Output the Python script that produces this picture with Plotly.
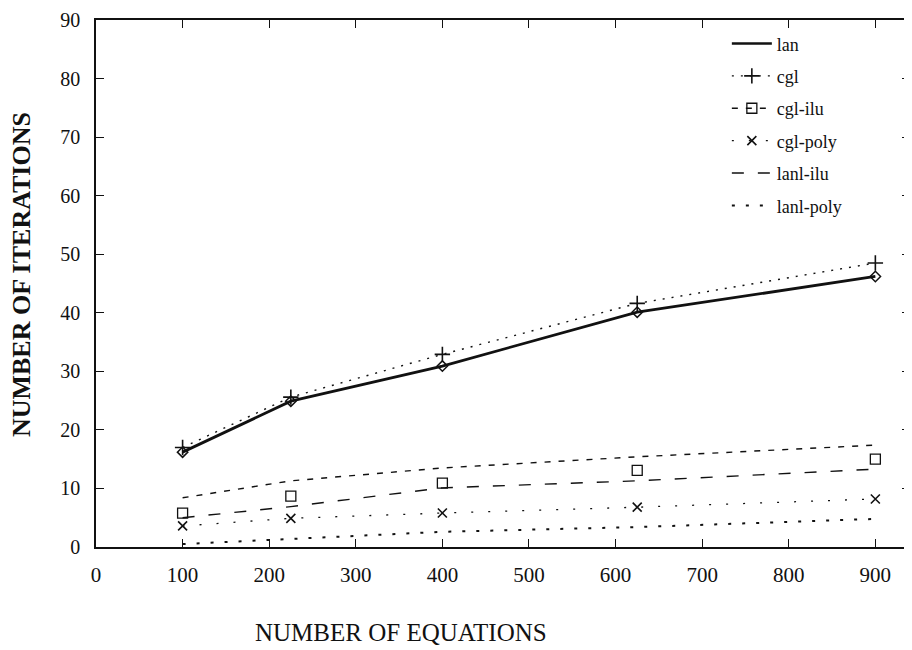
import plotly.graph_objects as go

# ---- data ----
n_equations = [100, 225, 400, 625, 900]
lan = [16.2, 24.9, 30.9, 40.1, 46.2]
cgl = [17.0, 25.6, 32.9, 41.6, 48.5]
cgl_ilu_markers = [5.8, 8.7, 10.9, 13.1, 15.0]
cgl_ilu_line = [8.4, 11.3, 13.5, 15.4, 17.4]
cgl_poly = [3.6, 4.9, 5.8, 6.8, 8.2]
lanl_ilu = [5.0, 6.9, 10.1, 11.3, 13.3]
lanl_poly = [0.5, 1.4, 2.6, 3.4, 4.8]

x_ticks = [0, 100, 200, 300, 400, 500, 600, 700, 800, 900]
y_ticks = [0, 10, 20, 30, 40, 50, 60, 70, 80, 90]

FONT = "Liberation Serif"
BLACK = "#111111"

fig = go.Figure()

# lan: solid line with open diamonds
fig.add_trace(go.Scatter(x=n_equations, y=lan, mode="lines+markers", name="lan",
                         line=dict(color=BLACK, width=2.8),
                         marker=dict(symbol="diamond-open", size=8, color=BLACK,
                                     line=dict(width=1.5, color=BLACK)),
                         showlegend=False, legendgroup="lan"))
fig.add_trace(go.Scatter(x=[None], y=[None], mode="lines", name="lan",
                         line=dict(color=BLACK, width=2.6), legendgroup="lan"))

# cgl: dotted line with + markers
fig.add_trace(go.Scatter(x=n_equations, y=cgl, mode="lines+markers", name="cgl",
                         line=dict(color=BLACK, width=1.4, dash="2px,7px"),
                         marker=dict(symbol="cross-thin-open", size=11, color=BLACK,
                                     line=dict(width=1.6, color=BLACK)),
                         legendgroup="cgl"))

# cgl-ilu: short-dash line + open squares
fig.add_trace(go.Scatter(x=n_equations, y=cgl_ilu_line, mode="lines", name="cgl-ilu",
                         line=dict(color=BLACK, width=1.4, dash="6px,8px"),
                         showlegend=False, legendgroup="cgl-ilu"))
fig.add_trace(go.Scatter(x=n_equations, y=cgl_ilu_markers, mode="markers", name="cgl-ilu",
                         marker=dict(symbol="square-open", size=10, color=BLACK,
                                     line=dict(width=1.3, color=BLACK)),
                         showlegend=False, legendgroup="cgl-ilu"))
fig.add_trace(go.Scatter(x=[None], y=[None], mode="lines+markers", name="cgl-ilu",
                         line=dict(color=BLACK, width=1.4, dash="6px,8px"),
                         marker=dict(symbol="square-open", size=10, color=BLACK,
                                     line=dict(width=1.3, color=BLACK)),
                         legendgroup="cgl-ilu"))

# cgl-poly: sparse dotted line with x markers
fig.add_trace(go.Scatter(x=n_equations, y=cgl_poly, mode="lines+markers", name="cgl-poly",
                         line=dict(color=BLACK, width=1.3, dash="2px,15px"),
                         marker=dict(symbol="x-thin-open", size=9, color=BLACK,
                                     line=dict(width=1.6, color=BLACK)),
                         legendgroup="cgl-poly"))

# lanl-ilu: long dashes
fig.add_trace(go.Scatter(x=n_equations, y=lanl_ilu, mode="lines", name="lanl-ilu",
                         line=dict(color=BLACK, width=1.4, dash="12px,14px")))

# lanl-poly: bold dotted
fig.add_trace(go.Scatter(x=n_equations, y=lanl_poly, mode="lines", name="lanl-poly",
                         line=dict(color=BLACK, width=2.0, dash="3px,11px")))

axis_common = dict(showline=True, linecolor=BLACK, linewidth=1.6, mirror="ticks",
                   ticks="inside", ticklen=8, tickcolor=BLACK, tickwidth=1.4,
                   showgrid=False, zeroline=False, automargin=False)

fig.update_xaxes(range=[0, 940], tickvals=x_ticks, ticktext=[str(v) for v in x_ticks],
                 ticklabelstandoff=8, tickfont=dict(family=FONT, size=21, color=BLACK),
                 **axis_common)
fig.update_yaxes(range=[0, 90], tickvals=y_ticks, ticktext=[str(v) for v in y_ticks],
                 ticklabelstandoff=10, tickfont=dict(family=FONT, size=20, color=BLACK),
                 **axis_common)

# axis titles (placed as in the reference)
fig.add_annotation(text="<b>NUMBER OF ITERATIONS</b>", xref="paper", yref="paper",
                   x=-0.092, y=(547 - 275) / 527, xanchor="center", yanchor="middle",
                   textangle=-90, showarrow=False,
                   font=dict(family=FONT, size=26, color=BLACK))
fig.add_annotation(text="NUMBER OF EQUATIONS", xref="paper", yref="paper",
                   x=(401 - 96) / 814, y=-(632 - 547) / 527, xanchor="center",
                   yanchor="middle", showarrow=False,
                   font=dict(family=FONT, size=25, color=BLACK))

# the page adds an 8px body margin, so the figure is 8px smaller than the window
fig.update_layout(
    width=904, height=642,
    margin=dict(l=88, r=2, t=12, b=103),
    paper_bgcolor="white", plot_bgcolor="white",
    font=dict(family=FONT, color=BLACK),
    legend=dict(x=0.775, y=0.99, xanchor="left", yanchor="top",
                bgcolor="rgba(0,0,0,0)", borderwidth=0,
                font=dict(family=FONT, size=18, color=BLACK),
                itemwidth=40, tracegroupgap=6),
)

fig.write_html("out.html")
